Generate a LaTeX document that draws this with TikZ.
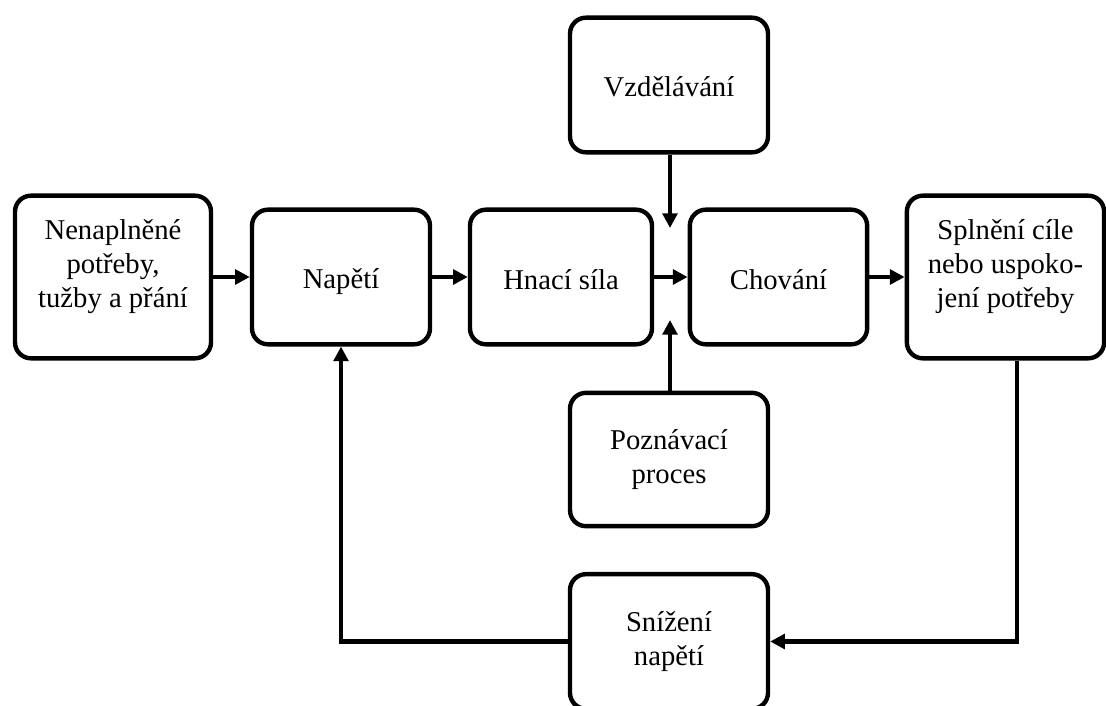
\documentclass[tikz,border=0pt]{standalone}
\usepackage{fontspec}
\setmainfont{Liberation Serif}
\usetikzlibrary{arrows.meta}

\begin{document}
\begin{tikzpicture}[x=0.75pt,y=-0.75pt,line width=3.3pt,>={Triangle[length=11pt,width=11pt]},font=\fontsize{21.5}{25.5}\selectfont,
  deep/.style={execute at end node={\rule[-#1]{0pt}{#1}}}]
  \tikzstyle{b}=[draw,rounded corners=12pt,align=center,inner sep=0pt,minimum width=148.5pt,minimum height=101pt,
    execute at begin node={\rule{0pt}{21.75pt}},execute at end node={\rule[-3.75pt]{0pt}{3.75pt}}]
  \useasboundingbox (0,0) rectangle (1106,706);
  % main row
  \node[b,deep=19.5pt,minimum width=147pt,minimum height=122pt] (need) at (113,277) {Nenaplněné\\potřeby,\\tužby a přání};
  \node[b,minimum width=133.5pt] (nap) at (341,277) {Napětí};
  \node[b,minimum width=136.5pt] (hnaci) at (561,277) {Hnací síla};
  \node[b,minimum width=133pt] (chov) at (778.5,277) {Chování};
  \node[b,deep=19.5pt,minimum width=148pt,minimum height=122pt] (spln) at (1005.5,277) {Splnění cíle\\nebo uspoko-\\jení potřeby};
  % side inputs
  \node[b] (vzd) at (669,85) {Vzdělávání};
  \node[b,minimum height=100pt] (pozn) at (669,459.5) {Poznávací\\proces};
  \node[b] (sniz) at (669,641.5) {Snížení\\napětí};
  \coordinate (in1) at (670,228);
  \coordinate (in2) at (670,320);
  \coordinate (c1) at (1017,641.5);
  % arrows
  \draw[->] (need) -- (nap);
  \draw[->] (nap) -- (hnaci);
  \draw[->] (hnaci) -- (chov);
  \draw[->] (chov) -- (spln);
  \draw[->] (vzd.south -| in1) -- (in1);
  \draw[->] (pozn.north -| in2) -- (in2);
  \draw[->] (spln.south -| c1) |- (sniz.east);
  \draw[->] (sniz.west) -| (nap.south);
\end{tikzpicture}
\end{document}
